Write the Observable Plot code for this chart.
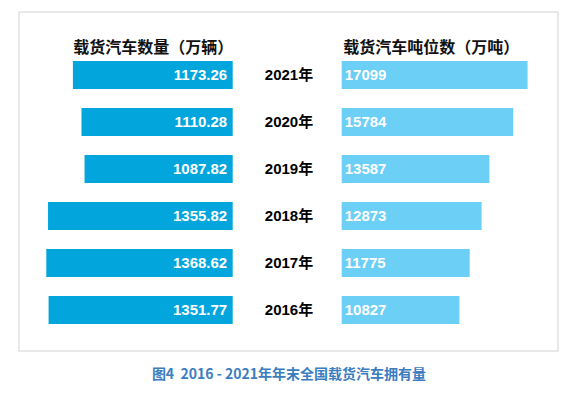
<!DOCTYPE html>
<html>
<head>
<meta charset="utf-8">
<script src="https://cdn.jsdelivr.net/npm/d3@7"></script>
<script src="https://cdn.jsdelivr.net/npm/@observablehq/plot@0.6"></script>
<style>
  html, body { margin: 0; padding: 0; background: white; }
  #wrap { position: relative; width: 578px; height: 397px; }
  #wrap svg { position: absolute; left: 0; top: 0; }
  #caption {
    position: absolute; left: 0; top: 363px; width: 578px; height: 22px; line-height: 22px;
    text-align: center; color: #3b7dbf; font: bold 14px "Noto Sans CJK SC", "Noto Sans", sans-serif;
    white-space: pre;
  }
</style>
</head>
<body>
<div id="wrap"></div>
<script>
const years = ["2021", "2020", "2019", "2018", "2017", "2016"];
const vehicles = [1173.26, 1110.28, 1087.82, 1355.82, 1368.62, 1351.77];
const tonnage = [17099, 15784, 13587, 12873, 11775, 10827];
const leftTitle = "载货汽车数量（万辆）";
const rightTitle = "载货汽车吨位数（万吨）";
const yearSuffix = "年";
const caption = "图4  2016 - 2021年年末全国载货汽车拥有量";

const data = years.map((y, i) => ({year: y, vehicles: vehicles[i], tonnage: tonnage[i]}));

const numFont = "'Liberation Sans', Arial, 'Noto Sans CJK SC', sans-serif";
const cjkFont = "'Noto Sans CJK SC', sans-serif";

const yScale = () => ({type: "band", domain: years, range: [51.4, 334.6], paddingInner: 0.4, paddingOuter: 0.2, axis: null});

const common = {
  width: 578, height: 355,
  marginTop: 11.5, marginRight: 20.5, marginBottom: 4.5,
  style: {background: "transparent", overflow: "visible"}
};

const left = Plot.plot({
  ...common,
  marginLeft: 18.5,
  x: {domain: [0, 1000], range: [232.7, 96.5], axis: null},
  y: yScale(),
  marks: [
    Plot.frame({stroke: "#d3d3d3"}),
    Plot.barX(data, {x1: () => 0, x2: "vehicles", y: "year", fill: "#02a6dc"}),
    Plot.text(data, {x: () => 0, y: "year", text: d => d.vehicles.toFixed(2), textAnchor: "end", dx: -6,
      fill: "white", fontSize: 15, fontWeight: "bold", fontFamily: numFont}),
    Plot.text([leftTitle], {x: () => 0, text: d => d, frameAnchor: "top", dy: 35.5, lineAnchor: "middle",
      textAnchor: "end", fill: "#111", fontSize: 16, fontWeight: "bold", fontFamily: cjkFont})
  ]
});

const right = Plot.plot({
  ...common,
  marginLeft: 288.5,
  x: {domain: [0, 10000], range: [341.7, 450.4], axis: null},
  y: yScale(),
  marks: [
    Plot.barX(data, {x1: () => 0, x2: "tonnage", y: "year", fill: "#6bcff6"}),
    Plot.text(data, {x: () => 0, y: "year", text: d => String(d.tonnage), textAnchor: "start", dx: 2.5,
      fill: "white", fontSize: 15, fontWeight: "bold", fontFamily: numFont}),
    Plot.text([rightTitle], {x: () => 0, text: d => d, frameAnchor: "top", dy: 35.5, lineAnchor: "middle",
      textAnchor: "start", dx: 1, fill: "#111", fontSize: 16, fontWeight: "bold", fontFamily: cjkFont}),
    Plot.text(data, {y: "year", text: d => d.year + yearSuffix, frameAnchor: "left", textAnchor: "middle",
      fill: "#000", fontSize: 15, fontWeight: "bold", fontFamily: numFont})
  ]
});

const wrap = document.getElementById("wrap");
wrap.appendChild(left);
wrap.appendChild(right);
const cap = document.createElement("div");
cap.id = "caption";
cap.textContent = caption;
wrap.appendChild(cap);
</script>
</body>
</html>
